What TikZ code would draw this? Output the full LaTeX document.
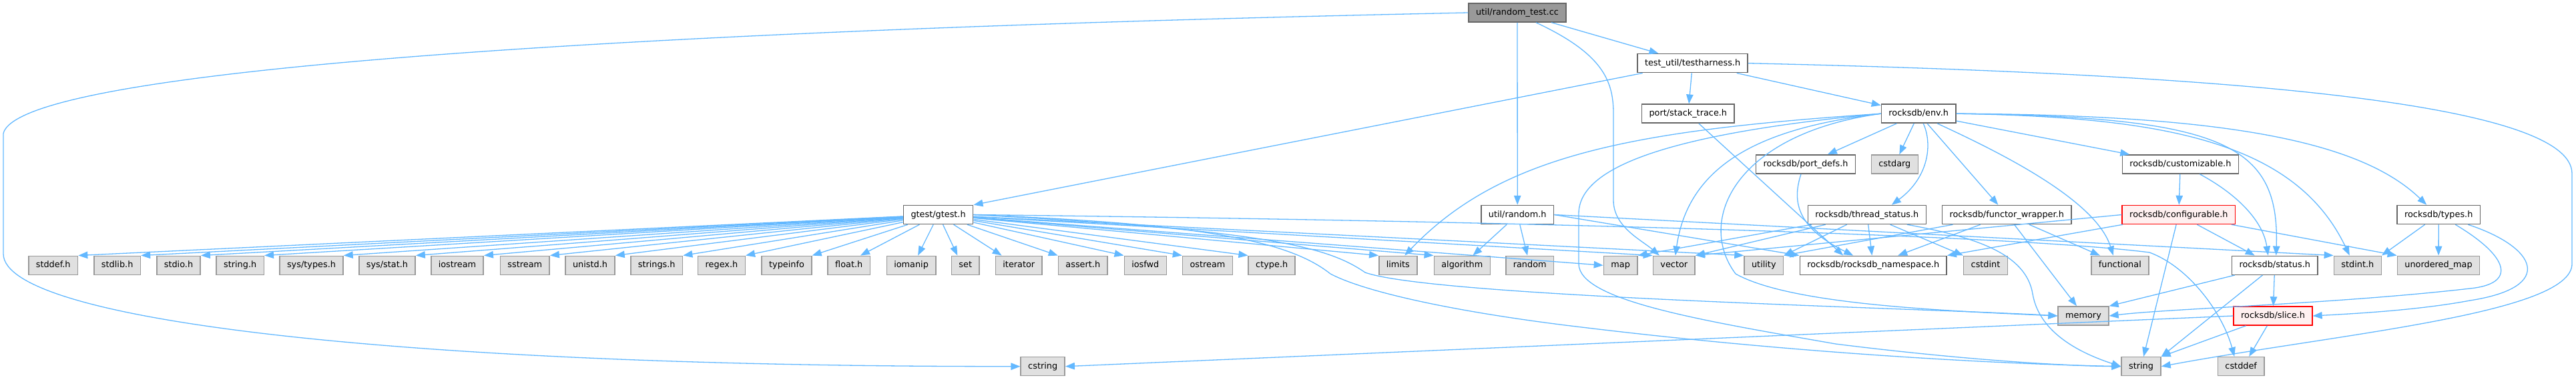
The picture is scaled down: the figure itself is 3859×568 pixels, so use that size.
\documentclass[tikz,border=0pt]{standalone}
\usepackage{fontspec}
\setmainfont{DejaVu Sans}
\usepackage{tikz}
\usetikzlibrary{arrows.meta}

\definecolor{edgeblue}{HTML}{63B8FF}
\definecolor{boxgray}{HTML}{E0E0E0}
\definecolor{grayline}{HTML}{999999}
\definecolor{darkline}{HTML}{666666}
\definecolor{redfill}{HTML}{FFF0F0}

\tikzset{
  file/.style={draw=darkline, fill=white, line width=1.5pt, minimum height=28pt,
    inner xsep=11pt, inner ysep=0pt, text height=9.6pt, text depth=2.6pt,
    font=\fontsize{12.85pt}{15pt}\selectfont},
  sysfile/.style={file, draw=grayline, fill=boxgray},
  rootfile/.style={file, fill=grayline},
  redfile/.style={file, draw=red, fill=redfill},
  dep/.style={draw=edgeblue, line width=1.3pt, -{Triangle[length=14pt,width=10.5pt]}}
}

\begin{document}
\begin{tikzpicture}[x=1pt, y=-1pt]
    \useasboundingbox (0,0) rectangle (3859,568);

    % 源文件与直接包含的头文件
    \node[rootfile] (root) at (2273,19) {util/random\_test.cc};
    \node[file] (harness) at (2535.6,94.7) {test\_util/testharness.h};
    \node[file] (stacktrace) at (2528.8,170.2) {port/stack\_trace.h};
    \node[file] (env) at (2874.2,170.2) {rocksdb/env.h};
    \node[file] (portdefs) at (2705,246) {rocksdb/port\_defs.h};
    \node[sysfile] (cstdarg) at (2838.3,246) {cstdarg};
    \node[file] (customizable) at (3266.3,246) {rocksdb/customizable.h};
    \node[file] (gtest) at (1405.6,321.5) {gtest/gtest.h};
    \node[file] (randomh) at (2273.2,321.5) {util/random.h};
    \node[file] (threadstatus) at (2796.8,321.5) {rocksdb/thread\_status.h};
    \node[file] (functor) at (3006.2,321.5) {rocksdb/functor\_wrapper.h};
    \node[redfile] (configurable) at (3263.8,321.5) {rocksdb/configurable.h};
    \node[file] (types) at (3653.2,321.5) {rocksdb/types.h};

    % 系统头文件一行
    \node[sysfile] (stddef) at (79.7,397.3) {stddef.h};
    \node[sysfile] (stdlib) at (175.7,397.3) {stdlib.h};
    \node[sysfile] (stdio) at (267.5,397.3) {stdio.h};
    \node[sysfile] (stringh) at (359.7,397.3) {string.h};
    \node[sysfile] (systypes) at (466.5,397.3) {sys/types.h};
    \node[sysfile] (sysstat) at (580,397.3) {sys/stat.h};
    \node[sysfile] (iostream) at (685,397.3) {iostream};
    \node[sysfile] (sstream) at (786.3,397.3) {sstream};
    \node[sysfile] (unistd) at (884,397.3) {unistd.h};
    \node[sysfile] (strings) at (983.7,397.3) {strings.h};
    \node[sysfile] (regex) at (1081,397.3) {regex.h};
    \node[sysfile] (typeinfo) at (1178.5,397.3) {typeinfo};
    \node[sysfile] (floath) at (1271.7,397.3) {float.h};
    \node[sysfile] (iomanip) at (1365.1,397.3) {iomanip};
    \node[sysfile] (setn) at (1446.3,397.3) {set};
    \node[sysfile] (iterator) at (1526.3,397.3) {iterator};
    \node[sysfile] (asserth) at (1622.3,397.3) {assert.h};
    \node[sysfile] (iosfwd) at (1715.8,397.3) {iosfwd};
    \node[sysfile] (ostream) at (1809,397.3) {ostream};
    \node[sysfile] (ctype) at (1905.2,397.3) {ctype.h};
    \node[sysfile] (limits) at (2094.3,397.3) {limits};
    \node[sysfile] (algorithm) at (2190.3,397.3) {algorithm};
    \node[sysfile] (random) at (2291.7,397.3) {random};
    \node[sysfile] (map) at (2427.7,397.3) {map};
    \node[sysfile] (vector) at (2507.8,397.3) {vector};
    \node[sysfile] (utility) at (2642.3,397.3) {utility};
    \node[file] (namespace) at (2806.2,397.3) {rocksdb/rocksdb\_namespace.h};
    \node[sysfile] (cstdint) at (2974.5,397.3) {cstdint};
    \node[sysfile] (functional) at (3175.8,397.3) {functional};
    \node[file] (status) at (3407.7,397.3) {rocksdb/status.h};
    \node[sysfile] (stdint) at (3531.8,397.3) {stdint.h};
    \node[sysfile] (unorderedmap) at (3653,397.3) {unordered\_map};

    % 底部两行
    \node[sysfile] (memory) at (3121,473) {memory};
    \node[redfile] (slice) at (3405,473) {rocksdb/slice.h};
    \node[sysfile] (cstring) at (1562.2,548.7) {cstring};
    \node[sysfile] (string) at (3207.5,548.7) {string};
    \node[sysfile] (cstddef) at (3357.2,548.7) {cstddef};

    % util/random_test.cc
    \draw[dep] (root) -- (harness);
    \draw[dep] (root) -- (randomh);
    \draw[dep] ([xshift=28pt]root.south) .. controls (2400,80) and (2417,120) .. (2417,170)
        -- (2417,300) .. controls (2417,340) and (2460,360) .. ([xshift=-22pt]vector.north);
    \draw[dep] (root.west) .. controls (1200,40) and (30,90) .. (5,200)
        -- (5,380) .. controls (5,480) and (600,549) .. (cstring.west);

    % test_util/testharness.h
    \draw[dep] (harness) -- (gtest.north east);
    \draw[dep] (harness) -- (stacktrace);
    \draw[dep] (harness) -- (env);
    \draw[dep] (harness.east) .. controls (3300,110) and (3853,150) .. (3853,260)
        -- (3853,395) .. controls (3853,470) and (3500,500) .. (string.east);
    \draw[dep] (stacktrace) -- ([xshift=-45pt]namespace.north);

    % rocksdb/env.h
    \draw[dep] (env) -- (portdefs);
    \draw[dep] (env) -- (cstdarg);
    \draw[dep] ([xshift=7pt]env.south) .. controls (2895,215) and (2890,265) .. ([xshift=37pt]threadstatus.north);
    \draw[dep] (env) -- (functor);
    \draw[dep] (env) -- ([xshift=-76pt]customizable.north);
    \draw[dep] ([xshift=28pt]env.south) .. controls (3000,230) and (3140,300) .. ([xshift=-10pt]functional.north);
    \draw[dep] (env.east) .. controls (3330,175) and (3415,215) .. ([xshift=2pt]status.north);
    \draw[dep] (env.east) .. controls (3250,175) and (3440,215) .. ([xshift=-12pt]stdint.north);
    \draw[dep] (env.east) .. controls (3350,172) and (3540,215) .. ([xshift=-18pt]types.north);
    \draw[dep] (env.west) .. controls (2450,195) and (2250,230) .. ([xshift=10pt]limits.north);
    \draw[dep] (env.west) .. controls (2650,190) and (2530,240) .. ([xshift=2pt]vector.north);
    \draw[dep] (env.west) .. controls (2600,200) and (2540,330) .. (2600,410)
        .. controls (2680,455) and (2900,465) .. (memory.west);
    \draw[dep] (env.west) .. controls (2500,200) and (2365,250) .. (2365,320)
        -- (2365,395) .. controls (2365,450) and (2550,480) .. (2750,515)
        .. controls (2950,540) and (3100,548) .. (string.west);

    % gtest/gtest.h
    \draw[dep] (gtest) -- (stddef.north east);
    \draw[dep] (gtest) -- (stdlib.north east);
    \draw[dep] (gtest) -- (stdio.north east);
    \draw[dep] (gtest) -- (stringh.north east);
    \draw[dep] (gtest) -- (systypes.north east);
    \draw[dep] (gtest) -- (sysstat.north east);
    \draw[dep] (gtest) -- (iostream.north east);
    \draw[dep] (gtest) -- (sstream.north east);
    \draw[dep] (gtest) -- (unistd.north east);
    \draw[dep] (gtest) -- (strings.north east);
    \draw[dep] (gtest) -- (regex.north east);
    \draw[dep] (gtest) -- (typeinfo.north east);
    \draw[dep] (gtest) -- ([xshift=-15pt]floath.north east);
    \draw[dep] (gtest) -- ([xshift=10pt]iomanip.north);
    \draw[dep] (gtest) -- ([xshift=-12pt]setn.north);
    \draw[dep] (gtest) -- ([xshift=10pt]iterator.north west);
    \draw[dep] (gtest) -- (asserth.north west);
    \draw[dep] (gtest) -- (iosfwd.north west);
    \draw[dep] (gtest) -- (ostream.north west);
    \draw[dep] (gtest) -- (ctype.north west);
    \draw[dep] (gtest) -- (limits.north west);
    \draw[dep] (gtest) -- (algorithm.north west);
    \draw[dep] (gtest) -- (map.west);
    \draw[dep] (gtest) -- (vector.north west);
    \draw[dep] (gtest) -- (utility.north west);
    \draw[dep] (gtest.east) .. controls (1900,345) and (1990,370) .. (2045,408)
        .. controls (2150,445) and (2900,462) .. (memory.west);
    \draw[dep] (gtest.east) .. controls (1800,335) and (1930,360) .. (1993,410)
        .. controls (2050,440) and (2200,470) .. (2370,490)
        .. controls (2700,530) and (3000,545) .. (string.west);
    \draw[dep] (gtest.east) .. controls (2200,330) and (3000,350) .. (3220,378)
        .. controls (3280,400) and (3330,470) .. ([xshift=-10pt]cstddef.north);

    % util/random.h
    \draw[dep] (randomh) -- (algorithm);
    \draw[dep] (randomh) -- (random);
    \draw[dep] (randomh.east) -- (namespace.north west);
    \draw[dep] (randomh.east) -- (stdint.north west);

    % rocksdb/port_defs.h
    \draw[dep] ([xshift=-7pt]portdefs.south) .. controls (2685,300) and (2690,340) .. ([xshift=-30pt]namespace.north);

    % rocksdb/thread_status.h
    \draw[dep] (threadstatus) -- (map.north east);
    \draw[dep] (threadstatus) -- (vector.north east);
    \draw[dep] (threadstatus) -- (utility.north east);
    \draw[dep] (threadstatus) -- (namespace);
    \draw[dep] (threadstatus) -- (cstdint.north west);
    \draw[dep] ([xshift=60pt]threadstatus.south) .. controls (2960,355) and (3035,380) .. (3045,440)
        .. controls (3055,500) and (3120,530) .. (string.west);

    % rocksdb/functor_wrapper.h
    \draw[dep] (functor) -- ([xshift=37pt]namespace.north);
    \draw[dep] (functor) -- (utility.north east);
    \draw[dep] (functor) -- ([xshift=-30pt]functional.north);
    \draw[dep] (functor) -- ([xshift=-10pt]memory.north);

    % rocksdb/customizable.h, rocksdb/configurable.h
    \draw[dep] (customizable) -- (configurable);
    \draw[dep] ([xshift=29pt]customizable.south) .. controls (3350,290) and (3390,330) .. ([xshift=-10pt]status.north);
    \draw[dep] (configurable.west) -- (vector.north east);
    \draw[dep] (configurable) -- (namespace.north east);
    \draw[dep] (configurable) -- (string);
    \draw[dep] (configurable) -- ([xshift=-30pt]status.north);
    \draw[dep] (configurable) -- (unorderedmap.north west);

    % rocksdb/types.h
    \draw[dep] (types) -- (stdint.north east);
    \draw[dep] (types) -- (unorderedmap);
    \draw[dep] ([xshift=25pt]types.south) .. controls (3760,385) and (3770,425) .. (3700,432)
        .. controls (3500,455) and (3250,462) .. (memory.east);
    \draw[dep] ([xshift=44pt]types.south) .. controls (3800,370) and (3830,430) .. (3700,450)
        .. controls (3620,465) and (3520,470) .. (slice.east);

    % rocksdb/status.h, rocksdb/slice.h
    \draw[dep] (status) -- (memory.north east);
    \draw[dep] (status) -- (string.north east);
    \draw[dep] (status) -- (slice);
    \draw[dep] (slice.west) -- (cstring.east);
    \draw[dep] (slice) -- (string.north east);
    \draw[dep] (slice) -- ([xshift=12pt]cstddef.north);
\end{tikzpicture}
\end{document}
